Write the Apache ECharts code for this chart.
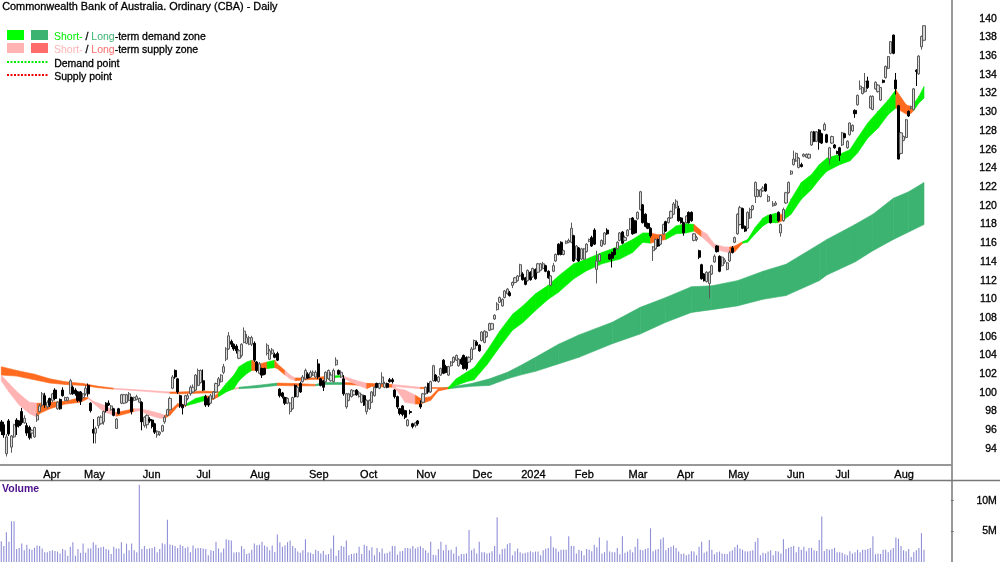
<!DOCTYPE html>
<html>
<head>
<meta charset="utf-8">
<style>html,body{margin:0;padding:0;background:#fff}#chart{width:1000px;height:562px}</style>
<script src="https://cdn.jsdelivr.net/npm/echarts@6/dist/echarts.min.js"></script>
</head>
<body>
<div id="chart"></div>
<script>
const slotCount = 372;
const monthSlots = [16,32,55,76,97,120,140,162,184,203,224,245,264,284,307,326,349];
const monthNames = ["Apr","May","Jun","Jul","Aug","Sep","Oct","Nov","Dec","2024","Feb","Mar","Apr","May","Jun","Jul","Aug"];

const opens = [
96.9,96.6,93.5,97.0,94.2,95.3,97.1,97.0,98.0,96.8,
96.5,96.3,95.7,95.3,97.1,98.0,98.7,99.7,98.5,99.4,
99.2,100.3,98.3,99.3,100.3,99.2,99.2,99.9,100.6,100.3,
100.1,100.1,99.5,99.9,100.8,98.9,96.1,95.7,96.5,96.7,
96.9,98.9,98.9,98.2,98.3,96.2,98.3,98.9,98.9,99.0,
99.2,99.5,99.2,99.3,99.0,99.0,96.5,96.6,97.2,97.1,
96.7,95.5,95.6,95.9,96.9,97.6,98.2,100.5,102.4,101.5,
99.7,98.7,98.7,99.4,99.9,100.1,100.3,100.8,101.1,101.3,
99.6,99.4,98.9,99.4,100.1,100.8,101.2,102.2,103.6,104.7,
105.5,105.2,105.0,103.7,104.0,105.4,105.3,105.2,105.2,105.3,
103.3,102.1,102.6,102.6,104.2,103.6,104.2,104.1,104.2,100.4,
100.0,99.5,98.9,98.0,98.3,100.8,99.6,101.0,101.2,101.5,
102.0,101.7,101.9,101.7,103.1,101.5,101.3,101.2,101.5,101.3,
101.2,103.0,102.4,101.7,101.5,98.5,99.2,99.6,99.8,100.3,
99.6,99.0,99.7,98.0,98.3,99.0,99.7,101.0,100.5,101.0,
100.6,101.0,101.4,101.4,100.3,99.6,98.3,98.6,98.1,96.5,
98.0,96.7,96.5,97.0,98.8,99.0,99.9,101.0,100.1,101.3,
101.9,101.2,101.9,103.5,102.8,101.9,102.9,103.3,103.5,102.9,
103.6,104.0,103.8,103.3,103.6,104.7,105.4,105.1,105.6,105.4,
106.0,106.7,106.8,107.9,108.9,109.7,109.3,110.2,110.6,110.7,
111.5,111.8,112.0,112.5,112.7,112.3,112.0,112.9,112.4,113.2,
112.9,113.1,113.3,113.6,113.0,111.5,113.0,114.1,115.9,116.1,
114.8,116.0,116.1,116.1,116.8,114.3,115.5,114.3,114.3,115.1,
116.2,116.6,117.4,113.2,114.1,115.7,115.9,117.4,114.8,115.0,
115.4,115.4,116.3,117.2,116.3,116.8,117.5,118.7,118.4,118.6,
119.6,120.1,119.1,118.1,117.6,115.2,115.4,116.4,115.9,117.0,
118.3,118.2,118.7,119.1,119.8,119.7,118.7,118.2,118.2,119.3,
119.3,116.3,116.4,115.2,113.7,112.7,111.9,111.7,112.7,114.0,
115.7,114.6,113.6,114.0,113.2,114.1,115.5,116.1,117.0,118.0,
119.7,117.8,117.6,118.7,119.6,121.0,121.0,121.0,121.6,122.3,
120.5,119.0,120.0,120.1,119.3,117.1,118.4,120.3,121.4,123.4,
124.4,124.8,124.1,124.4,125.3,125.2,125.1,126.5,127.9,126.9,
128.1,127.7,128.1,127.6,125.0,126.7,126.5,125.8,126.2,126.5,
127.7,126.2,127.6,128.0,130.2,130.8,132.5,132.0,132.2,133.35,
130.45,130.3,132.5,132.2,131.3,133.4,133.7,134.7,136.3,138.25,
133.45,130.7,125.6,127.0,127.3,130.1,130.45,130.3,134.5,134.1,
137.0,137.7];
const closes = [
95.9,95.5,95.3,95.6,95.4,96.6,96.4,96.5,96.8,97.3,
95.7,95.2,96.0,96.3,97.6,98.6,99.9,98.7,99.0,98.7,
99.9,99.4,99.0,98.3,99.7,99.5,99.5,101.3,99.9,99.9,
99.2,99.1,99.9,100.5,99.9,98.1,95.7,96.2,97.4,97.4,
98.0,98.1,98.7,98.6,97.6,97.2,97.8,99.8,99.8,99.8,
99.9,98.0,99.5,99.6,99.4,96.9,97.4,97.6,97.0,96.4,
95.8,95.9,95.8,96.5,97.4,98.2,99.4,101.7,101.7,100.1,
98.6,98.4,99.7,99.7,100.6,100.6,101.9,102.4,102.4,100.3,
98.7,98.7,99.7,100.1,101.0,101.5,101.9,102.8,104.7,106.1,
105.2,104.7,104.5,104.5,105.2,106.6,105.9,105.9,105.9,103.5,
102.4,103.1,101.9,102.0,105.1,104.5,104.6,103.8,103.5,99.7,
99.6,98.9,99.4,98.9,99.5,99.6,100.6,100.1,101.7,102.4,
101.6,102.2,102.2,102.2,101.7,100.8,100.6,102.2,102.4,101.9,
102.4,103.5,102.0,102.2,99.9,99.9,99.9,100.3,100.2,99.8,
100.0,99.8,98.7,99.2,99.2,100.1,100.6,100.6,101.0,101.7,
101.0,100.6,101.2,101.2,99.6,98.5,97.8,97.7,97.4,97.1,
97.9,96.4,96.8,96.7,98.5,99.9,100.6,100.1,101.2,102.9,
101.3,101.7,102.6,102.1,102.2,102.8,103.3,103.8,104.0,103.6,
103.1,102.6,102.6,103.8,104.7,105.6,105.1,104.5,106.5,106.6,
106.5,107.4,107.4,108.3,109.5,110.2,110.0,110.9,111.1,110.4,
111.8,112.3,112.5,113.7,112.1,111.6,113.1,112.1,113.3,112.2,
113.8,113.8,113.8,113.0,112.3,112.5,113.6,114.8,114.8,114.8,
115.2,116.2,116.3,117.6,114.1,115.7,114.1,115.4,115.4,115.9,
116.4,115.7,115.9,114.1,114.8,116.3,117.1,117.0,114.3,114.4,
114.8,116.1,117.1,116.0,116.6,117.4,118.6,117.0,117.1,119.3,
121.5,118.2,117.8,117.6,116.8,115.6,116.4,115.7,116.8,118.0,
117.3,118.7,119.4,120.2,120.5,118.4,118.2,117.1,118.9,118.2,
118.4,117.0,116.6,114.5,112.2,112.0,112.9,112.9,113.6,114.6,
115.1,113.0,114.5,114.2,113.9,115.0,115.0,116.6,119.1,119.8,
117.6,117.3,119.3,119.6,120.0,122.5,121.7,121.7,121.9,121.6,
121.0,118.2,120.2,120.3,118.4,118.0,119.6,121.4,122.5,123.7,
125.0,125.6,125.1,124.2,125.5,125.5,125.5,127.9,126.9,127.9,
126.8,126.7,128.7,126.8,126.2,127.4,126.2,125.6,125.4,127.8,
127.3,126.9,128.85,128.6,129.85,131.8,132.8,132.65,133.3,132.65,
131.7,131.7,133.2,132.9,132.65,133.2,134.9,135.95,137.55,136.3,
132.5,125.0,127.8,127.4,129.2,129.6,130.6,132.5,134.35,136.0,
138.1,139.25];
const lows = [
95.5,95.2,93.2,95.4,93.6,95.2,95.5,96.3,96.6,96.7,
95.4,95.0,95.1,95.2,96.9,97.9,98.5,98.4,98.3,98.5,
99.0,99.2,98.2,98.2,99.6,99.1,99.1,99.8,99.8,99.7,
99.0,98.7,99.3,99.7,99.6,97.9,94.6,94.6,96.2,96.6,
96.6,97.9,98.6,98.1,97.5,96.2,97.7,98.8,98.8,98.9,
99.1,97.7,99.1,99.2,98.9,96.0,96.3,96.2,96.8,96.2,
95.6,95.2,95.4,95.8,96.7,97.5,98.1,100.4,101.5,99.9,
98.4,97.7,98.5,99.2,99.7,100.0,100.2,100.7,101.0,100.2,
98.5,98.5,98.8,99.3,100.0,100.7,101.1,102.0,103.4,104.6,
104.9,104.5,104.2,103.6,103.8,105.3,105.2,105.1,105.0,103.3,
102.2,102.0,101.6,101.9,104.0,103.5,104.1,103.7,103.4,99.5,
99.4,98.7,98.8,97.7,98.2,99.5,99.5,100.0,101.1,101.4,
101.5,101.6,101.8,101.6,101.5,100.7,100.2,101.1,101.4,101.2,
101.1,102.9,101.9,101.6,99.7,98.3,99.1,99.5,99.7,99.7,
99.5,98.9,98.6,97.7,98.2,98.9,99.6,100.5,100.4,100.9,
100.5,100.5,101.1,101.0,99.4,98.3,97.6,97.5,97.2,96.4,
97.7,96.2,96.3,96.5,98.3,98.9,99.8,99.9,100.0,101.2,
101.2,101.1,101.8,102.0,102.1,101.8,102.8,103.2,103.4,102.8,
103.0,102.5,102.4,103.2,103.5,104.6,105.0,104.4,105.5,105.3,
105.9,106.6,106.7,107.8,108.8,109.6,109.2,110.1,110.5,110.3,
111.2,111.7,111.9,112.4,112.0,111.5,111.9,112.0,112.3,112.1,
112.8,113.0,113.2,112.9,112.2,111.4,112.9,114.0,114.7,114.7,
114.7,115.9,116.0,116.0,114.0,114.2,114.0,114.2,114.2,115.0,
116.1,115.6,115.8,111.7,114.0,115.6,115.8,116.9,114.2,113.4,
114.7,115.3,116.2,115.9,116.2,116.7,117.4,116.9,117.0,118.5,
119.5,118.1,117.7,117.5,116.6,114.1,115.3,115.6,115.8,116.9,
117.2,118.1,118.6,119.0,119.7,118.3,118.1,116.8,118.1,118.1,
118.3,116.2,116.2,114.3,112.1,111.9,111.8,110.1,112.6,113.9,
115.0,112.9,113.5,113.8,113.1,114.0,114.9,116.0,116.9,117.9,
117.5,117.2,117.5,118.6,119.5,120.3,120.9,120.9,121.5,121.5,
120.4,118.1,119.9,120.0,118.3,116.7,118.3,120.2,121.3,123.3,
124.3,124.7,124.0,124.1,125.2,125.1,125.0,126.4,126.8,126.8,
126.0,126.6,128.0,126.7,124.4,126.6,126.1,125.5,124.8,126.4,
127.2,126.1,127.5,127.9,129.4,130.7,132.4,131.9,132.1,132.5,
130.4,130.2,132.4,132.1,131.2,133.1,133.6,134.6,136.2,136.2,
131.9,124.95,125.5,126.9,127.2,129.5,130.3,130.2,132.8,134.0,
136.7,137.6];
const highs = [
97.1,96.9,95.6,97.2,95.5,96.7,97.3,97.1,98.4,97.6,
96.8,96.5,96.1,96.4,97.8,98.8,100.1,100.0,99.2,99.5,
100.0,100.5,99.1,99.4,100.6,99.6,99.6,101.5,100.8,100.5,
100.2,100.2,100.0,100.8,101.0,99.0,97.2,96.4,97.5,97.6,
98.1,99.0,99.2,98.7,98.4,97.3,98.4,99.9,99.9,99.9,
100.1,99.6,99.6,99.8,99.5,99.1,97.5,97.7,97.4,97.2,
96.8,96.0,95.9,96.6,97.6,98.3,99.6,101.9,102.5,101.6,
99.8,98.8,99.8,99.9,100.8,100.9,102.0,102.6,102.5,102.5,
99.8,99.6,99.9,100.2,101.1,101.7,102.0,103.1,104.9,106.5,
105.7,105.3,105.2,104.7,105.3,107.0,106.3,106.1,106.1,105.5,
103.4,103.3,102.7,102.7,105.3,104.7,104.8,104.3,104.4,100.5,
100.1,99.6,99.5,99.0,99.6,100.9,100.7,101.2,101.9,102.6,
102.2,102.4,102.4,102.4,103.6,101.6,101.4,102.3,102.5,102.2,
102.6,103.8,102.5,102.4,101.9,100.0,100.0,100.4,100.3,100.4,
100.2,99.9,99.8,99.3,99.3,100.2,100.7,101.1,101.1,102.2,
101.2,101.1,101.6,101.6,100.4,99.7,98.4,98.7,98.2,97.2,
98.2,96.8,96.9,97.1,99.2,100.0,100.7,101.1,101.3,103.0,
102.0,101.8,102.7,103.6,103.0,102.9,103.4,103.9,104.1,103.7,
103.8,104.1,103.9,103.9,104.9,105.7,105.6,105.2,106.6,106.7,
106.6,107.5,107.5,108.4,109.7,110.3,110.1,111.0,111.2,110.9,
111.9,112.4,112.6,113.8,112.9,112.4,113.2,113.0,113.4,113.3,
113.9,113.9,114.0,113.7,113.1,112.6,113.9,114.9,116.0,116.2,
115.3,116.3,116.5,118.2,116.9,115.8,115.6,115.5,115.5,116.0,
116.5,116.8,117.6,115.2,114.9,116.4,117.2,117.6,114.9,115.1,
115.5,116.2,117.2,117.3,116.8,117.5,118.7,118.8,118.5,119.4,
121.6,120.2,119.2,118.2,117.7,115.7,116.5,116.5,116.9,118.1,
118.4,118.8,119.5,120.4,120.7,120.0,118.8,118.3,119.0,119.4,
119.4,117.1,116.8,115.3,113.8,112.8,113.0,113.0,113.7,114.8,
115.8,114.7,114.6,114.4,114.0,115.2,115.7,116.7,119.2,120.0,
119.8,117.9,119.4,119.8,120.1,122.6,121.8,121.8,122.1,122.4,
121.2,119.1,120.5,120.5,119.4,118.1,119.8,121.5,122.6,123.8,
125.9,125.7,125.2,124.6,125.6,125.6,125.6,128.0,128.0,128.0,
128.2,127.8,128.9,127.7,126.3,127.5,126.6,125.9,126.3,127.9,
127.8,127.0,128.9,128.7,130.3,131.9,133.4,132.7,134.2,133.8,
131.8,131.8,133.3,133.0,132.7,133.5,135.0,136.0,137.6,138.3,
134.2,130.8,127.9,127.5,129.3,130.2,130.7,132.6,134.6,136.1,
138.2,139.3];

const volumes = [
3.4,2.6,4.85,3.3,6.65,6.65,2.1,2.3,3.0,1.9,
2.8,2.1,2.0,2.3,2.7,2.6,2.2,1.6,1.6,1.8,
1.9,1.8,1.7,1.4,2.1,1.9,1.0,2.5,3.2,1.0,
2.1,1.5,3.0,1.5,2.2,2.2,3.2,2.8,2.3,2.4,
2.5,2.1,2.0,1.3,2.5,2.2,2.2,3.2,1.4,3.0,
1.9,3.0,1.9,1.6,12.6,2.1,2.6,2.1,2.2,2.3,
2.5,1.6,2.1,3.05,2.9,6.9,2.85,2.75,2.6,2.3,
2.8,2.6,2.3,2.5,1.6,2.7,2.2,2.3,2.3,2.2,
2.1,1.1,1.9,1.8,3.3,2.2,1.55,2.2,3.7,3.6,
3.5,1.55,1.6,1.6,2.6,2.1,1.3,1.45,2.0,3.0,
2.75,2.8,3.3,2.7,2.5,1.9,2.7,1.65,4.5,3.2,
2.5,2.75,3.2,3.5,2.6,2.3,1.7,1.5,1.9,3.7,
1.6,1.5,1.3,2.0,1.8,1.4,1.8,1.2,1.3,2.2,
4.3,1.0,1.9,2.6,2.5,3.5,1.1,1.3,1.4,1.45,
2.5,1.3,2.8,2.6,1.9,2.4,1.1,2.3,1.6,2.2,
1.4,1.45,1.7,2.6,2.6,1.2,1.7,1.8,2.3,2.3,
2.2,2.6,2.2,2.4,2.6,2.3,1.9,1.5,3.3,1.2,
1.1,2.1,3.3,1.9,2.8,1.9,2.0,1.4,2.5,1.0,
1.3,1.3,1.4,5.2,1.9,2.2,1.4,3.3,1.6,1.6,
1.4,1.5,1.75,2.6,7.3,1.25,2.1,2.2,2.9,3.1,
1.1,1.75,2.2,1.6,1.4,1.5,1.6,1.75,1.6,1.7,
1.7,1.1,1.9,2.15,2.3,4.2,2.4,2.2,1.7,2.0,
2.0,2.0,4.2,2.6,2.6,1.4,2.0,1.8,1.1,2.1,
2.0,1.75,2.8,2.4,4.0,1.4,1.6,3.5,1.7,1.6,
1.6,2.3,1.25,4.2,1.5,1.7,2.0,1.6,2.5,3.8,
2.0,1.9,2.1,2.3,5.5,1.75,2.0,2.1,3.7,4.0,
1.9,2.3,2.5,2.7,2.3,1.7,1.3,1.4,1.1,1.25,
1.75,1.7,1.1,2.5,3.3,1.5,1.7,3.6,2.0,1.25,
1.6,1.7,1.4,1.3,1.3,1.7,1.9,2.4,2.8,2.2,
2.0,1.75,1.7,1.8,1.9,3.3,3.9,1.1,1.5,1.4,
1.7,1.9,1.1,1.8,1.7,1.4,3.7,2.1,2.3,2.5,
2.6,1.6,2.5,2.0,2.5,1.75,2.3,2.3,1.9,1.8,3.6,
7.4,1.8,2.1,2.0,2.1,2.3,1.6,1.6,1.5,1.25,
1.1,1.75,1.4,1.6,2.0,1.6,2.0,2.0,2.1,2.3,
4.2,1.25,1.4,1.3,2.0,2.0,1.6,2.0,2.3,4.0,
3.8,2.6,1.9,1.75,2.1,0.8,1.6,1.9,2.3,4.7,
2.0];

const shortX = [0,3,7,11,14,15,19,25,31,34,36,40,45,52,54,58,62,64,66,69,72,76,80,83,85,88,91,93,96,98,101,104,107,108,111,113,115,122,125,128,133,138,143,145,153,155,158,162,164,168,171,175,178,182,185,190,195,200,204,209,214,218,224,229,235,242,247,251,254,257,260,264,268,271,274,276,279,283,285,287,290,292,295,298,300,303,304,306,309,313,317,320,323,328,332,335,339,343,347,350,354,356,357,359,361];
const shortTop = [101.9,101,99.9,99,98.9,98.9,99,99.1,99.5,99.5,99.1,98.7,97.9,98.3,98.3,98.1,97.8,97.6,98.1,98.85,98.75,99.4,99.7,99.6,100,101,101.9,102.8,103.3,103.5,103.1,103.3,103.5,103.1,102.4,101.9,101.6,101.6,101.7,101.8,101.85,101.4,101,100.9,100.8,100.45,100.3,99.75,99.4,99.6,100.45,100.6,101.5,102.2,102.7,104.5,106.6,108.4,109.3,110.6,111.5,112.5,113.8,114.3,115,115.7,116.4,117.1,117.1,116.9,117,117.85,118.1,118,117.3,117,115.9,115.6,115.6,115.7,116.15,116.4,117.7,118.7,119,119.2,119.1,119.1,120.7,122.5,123.35,124.4,125.1,125.5,126,127.25,128.85,130.1,131.3,132.4,130.8,130.6,130.9,131.7,132.75];
const shortBot = [101.3,100.1,98.7,97.8,97.4,97.8,98.3,98.8,99,99.4,98.9,98,97.5,98,98.1,97.6,97.3,97.3,97.6,98.55,98.6,98.9,99.2,99.3,99.6,100.1,100.45,101.3,102.05,102.4,102.4,102.6,102.7,102.6,101.9,101.5,101.3,101.45,101.4,101.6,101.7,101,100.45,100.7,100.6,100.2,99,98.8,98.8,99.2,100.2,100.45,100.8,101.2,101.4,103,104.9,106.7,107.5,108.8,110,110.75,112.2,113.05,113.8,114.3,115,116.1,116,116.25,116.4,117,117.1,117.3,116.7,116.2,115.4,115.1,115,115.1,116,116.1,117,117.85,118.2,118.2,118.2,118.45,119.1,120.7,121.75,122.8,123.7,124.4,124.8,125.65,127.25,128.3,129.75,130.45,129.8,129.9,130.2,131,131.5];
const shortZone = ["PPPP","OOOOO","PPP","O","PPPP","OOO","GG","OO","GGGGG","OO","G","OO","PP","OOO","G","PP","OO","PPP","OOOO","GGGGGGGGGGGGGGGGG","OO","GGG","O","PPPP","OO","GGGGGG","O","GGGGGGGGGGGG","OOO","GGG"].join("");

const longX = [0,6,13,19,25,32,38,44,52,66,70,79,83,86,89,93,100,108,115,123,126,134,145,153,164,173,175,184,191,198,203,209,218,226,239,250,260,270,278,288,298,307,320,323,334,341,349,355,361];
const longTop = [102.8,102.4,102,101.5,101.2,101,100.7,100.5,100.35,100.1,100.1,100.2,100.15,100.1,100.4,100.6,100.8,101.05,101,100.9,101.1,101.1,101,100.9,100.6,100.55,100.6,101,101.5,102.2,102.9,103.8,105.2,106.2,107.55,109.15,110.2,111.35,111.45,112,113,113.75,115.9,116.4,118,119.1,120.8,121.5,122.5];
const longBot = [101.9,101.8,101.4,101.05,100.9,100.8,100.55,100.4,100.25,99.95,99.9,99.98,100,100.05,100.3,100.45,100.55,100.8,100.75,100.75,100.9,100.9,100.75,100.7,100.45,100.5,100.45,100.7,100.8,101.5,101.9,102.3,103.1,103.8,105.25,106.3,107.55,108.6,108.9,109.3,110,110.4,112,112.6,114,115.2,116.4,117.2,118];
const longZone = ["OOOOOOO","PP","OOOO","PP","DD","OO","DD","OO","P","O","DDDDDDDDDDDDDDDDDDDDDDDD"].join("");

const zoneColors = { G: "#00f000", D: "#3cb371", P: "#ffb3b3", O: "#ff6a1f" };
const chartFont = "Liberation Sans";

const makeQuads = (xs, tops, bots, zones) => {
  const rows = [];
  for (let i = 0; i < xs.length - 1; i++) {
    rows.push([xs[i], tops[i], bots[i], xs[i + 1], tops[i + 1], bots[i + 1], zones[i]]);
  }
  return rows;
};

const bandSeries = (name, rows, z) => ({
  name: name,
  type: "custom",
  xAxisIndex: 0,
  yAxisIndex: 0,
  z: z,
  silent: true,
  clip: true,
  encode: { x: [0, 3], y: [1, 2, 4, 5] },
  data: rows.map((r) => r.slice(0, 6)),
  renderItem: (params, api) => {
    const a = api.coord([api.value(0), api.value(1)]);
    const b = api.coord([api.value(3), api.value(4)]);
    const c = api.coord([api.value(3), api.value(5)]);
    const d = api.coord([api.value(0), api.value(2)]);
    const color = zoneColors[rows[params.dataIndex][6]];
    return {
      type: "polygon",
      shape: { points: [a, b, c, d] },
      style: { fill: color, stroke: color, lineWidth: 0.6 },
    };
  },
});

const slots = Array.from({ length: slotCount }, (_, i) => {
  const at = monthSlots.indexOf(i);
  return at >= 0 ? monthNames[at] : String(i);
});
const isMonth = (index) => monthSlots.includes(index);

const chart = echarts.init(document.getElementById("chart"), null, { renderer: "canvas" });

const textHeavy = { stroke: "#000", lineWidth: 0.3 };
const legendFont = "10.5px '" + chartFont + "'";
const richBase = { fontFamily: chartFont, fontSize: 10.5 };
const labelHeavy = { textBorderColor: "#000", textBorderWidth: 0.3 };

const colouredRow = (y, shortColor, longColor, tail) => ({
  type: "text",
  left: 54,
  top: y,
  style: {
    text: "{a|Short-}{c| / }{b|Long}{c|" + tail + "}",
    font: legendFont,
    rich: {
      a: Object.assign({ fill: shortColor }, richBase),
      b: Object.assign({ fill: longColor }, richBase),
      c: Object.assign({ fill: "#000" }, richBase, textHeavy),
    },
  },
});
const plainRow = (y, text) => ({
  type: "text",
  left: 54,
  top: y,
  style: Object.assign({ text: text, font: legendFont, fill: "#000" }, textHeavy),
});

chart.setOption({
  animation: false,
  backgroundColor: "#fff",
  textStyle: { fontFamily: chartFont },
  grid: [
    { left: 0, width: 952, top: -1.78, height: 469.5, containLabel: false },
    { left: 0, width: 952, top: 481, height: 85.3, containLabel: false },
  ],
  xAxis: [
    {
      type: "category",
      gridIndex: 0,
      data: slots,
      offset: -2.7,
      axisLine: { lineStyle: { color: "#777", width: 1.5 } },
      axisTick: { interval: (i) => isMonth(i), length: 3, alignWithLabel: true, lineStyle: { color: "#777" } },
      axisLabel: Object.assign({
        interval: (i) => isMonth(i),
        align: "left",
        margin: 4,
        padding: [0, 0, 0, 1],
        color: "#000",
        fontSize: 11,
        hideOverlap: false,
        formatter: (v) => (monthNames.includes(v) ? v : ""),
      }, labelHeavy),
      splitLine: { show: false },
    },
    {
      type: "category",
      gridIndex: 1,
      data: slots,
      axisLine: { show: false },
      axisTick: { show: false },
      axisLabel: { show: false },
      splitLine: { show: false },
    },
  ],
  yAxis: [
    {
      type: "value",
      gridIndex: 0,
      position: "right",
      min: 92,
      max: 142,
      interval: 2,
      axisLine: { show: false },
      axisTick: { show: false },
      axisLabel: Object.assign({
        align: "right",
        margin: 46,
        color: "#000",
        fontSize: 10.5,
        showMinLabel: false,
        showMaxLabel: false,
      }, labelHeavy),
      splitLine: { show: false },
    },
    {
      type: "value",
      gridIndex: 1,
      position: "right",
      min: 0,
      max: 13.2,
      interval: 5,
      axisLine: { show: false },
      axisTick: { show: true, length: 3, lineStyle: { color: "#777" } },
      axisLabel: Object.assign({
        align: "right",
        margin: 46,
        color: "#000",
        fontSize: 10.5,
        showMinLabel: false,
        showMaxLabel: false,
        formatter: (v) => v + "M",
      }, labelHeavy),
      splitLine: { show: false },
    },
  ],
  series: [
    bandSeries("Long-term zone", makeQuads(longX, longTop, longBot, longZone), 1),
    bandSeries("Short-term zone", makeQuads(shortX, shortTop, shortBot, shortZone), 2),
    {
      name: "CBA",
      type: "candlestick",
      xAxisIndex: 0,
      yAxisIndex: 0,
      z: 3,
      barWidth: 2.6,
      itemStyle: {
        color: "#d8d8d8",
        color0: "#000000",
        borderColor: "#5a5a5a",
        borderColor0: "#000000",
        borderWidth: 1,
      },
      data: opens.map((o, i) => [o, closes[i], lows[i], highs[i]]),
    },
    {
      name: "Volume",
      type: "bar",
      xAxisIndex: 1,
      yAxisIndex: 1,
      barWidth: 1.1,
      itemStyle: { color: "#9090d8" },
      data: volumes,
    },
  ],
  graphic: [
    { type: "line", shape: { x1: 0, y1: 480.5, x2: 1000, y2: 480.5 }, style: { stroke: "#777", lineWidth: 1.5 } },
    { type: "line", shape: { x1: 952, y1: 0, x2: 952, y2: 562 }, style: { stroke: "#777", lineWidth: 1.5 } },
    { type: "text", left: 2, top: 1, style: Object.assign({ text: "Commonwealth Bank of Australia. Ordinary (CBA) - Daily", font: "10.9px '" + chartFont + "'", fill: "#000" }, textHeavy) },
    { type: "text", left: 2, top: 484, style: { text: "Volume", font: "bold 10.5px '" + chartFont + "'", fill: "#4b0f8c" } },
    { type: "rect", shape: { x: 7, y: 30, width: 17, height: 10 }, style: { fill: "#00ff00" } },
    { type: "rect", shape: { x: 31, y: 30, width: 17, height: 10 }, style: { fill: "#3cb371" } },
    { type: "rect", shape: { x: 7, y: 43, width: 17, height: 10 }, style: { fill: "#ffb3b3" } },
    { type: "rect", shape: { x: 31, y: 43, width: 17, height: 10 }, style: { fill: "#ff6b6b" } },
    { type: "line", shape: { x1: 7, y1: 62, x2: 48, y2: 62 }, style: { stroke: "#00ee00", lineWidth: 2, lineDash: [2, 1.5] } },
    { type: "line", shape: { x1: 7, y1: 75, x2: 48, y2: 75 }, style: { stroke: "#ee0000", lineWidth: 2, lineDash: [2, 1.5] } },
    colouredRow(31, "#00ee00", "#3cb371", "-term demand zone"),
    colouredRow(44, "#ffb3b3", "#ff6b6b", "-term supply zone"),
    plainRow(58, "Demand point"),
    plainRow(71, "Supply point"),
  ],
});
</script>
</body>
</html>
